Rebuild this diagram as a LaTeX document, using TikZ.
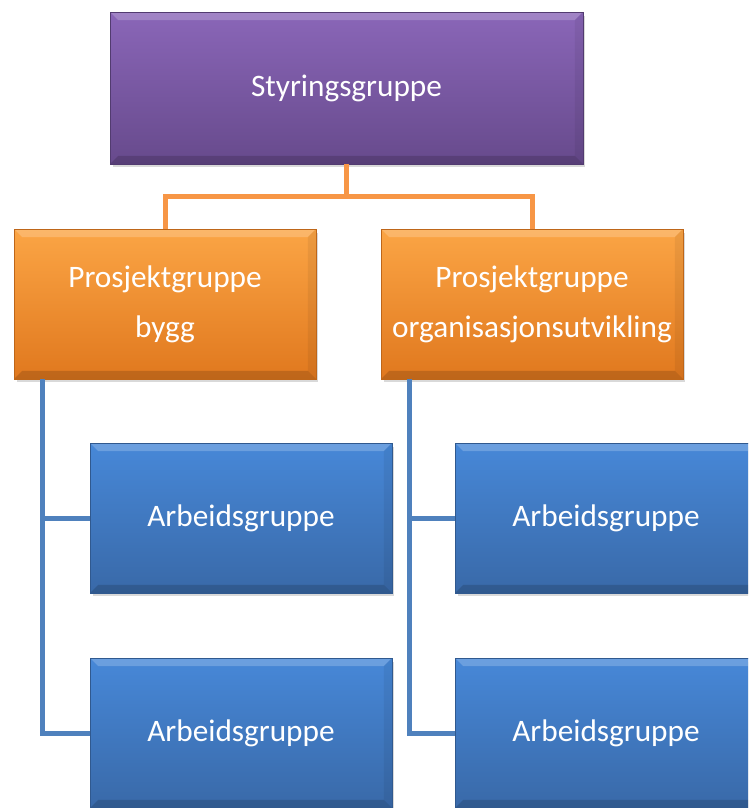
\documentclass[tikz,border=0pt]{standalone}
\usepackage{fontspec}
\setmainfont{Carlito}
\usetikzlibrary{shadows}

\definecolor{purpletop}{HTML}{8A66B8}
\definecolor{purplebot}{HTML}{674A8C}
\definecolor{orangetop}{HTML}{FBA545}
\definecolor{orangebot}{HTML}{E0781E}
\definecolor{bluetop}{HTML}{4788D8}
\definecolor{bluebot}{HTML}{3969A8}
\definecolor{orangeline}{HTML}{F79646}
\definecolor{blueline}{HTML}{4F81BD}

\tikzset{
  bevel/.style={path picture={
    \fill[white,opacity=0.2] (path picture bounding box.north west) -- (path picture bounding box.north east)
      -- ([xshift=-0.16cm,yshift=-0.16cm]path picture bounding box.north east)
      -- ([xshift=0.16cm,yshift=-0.16cm]path picture bounding box.north west) -- cycle;
    \fill[black,opacity=0.15] (path picture bounding box.south west) -- (path picture bounding box.south east)
      -- ([xshift=-0.16cm,yshift=0.16cm]path picture bounding box.south east)
      -- ([xshift=0.16cm,yshift=0.16cm]path picture bounding box.south west) -- cycle;
    \fill[black,opacity=0.06] (path picture bounding box.north east) -- (path picture bounding box.south east)
      -- ([xshift=-0.16cm,yshift=0.16cm]path picture bounding box.south east)
      -- ([xshift=-0.16cm,yshift=-0.16cm]path picture bounding box.north east) -- cycle;
  }},
  orgbox/.style={rectangle, minimum width=6.04cm, minimum height=3cm, inner sep=0pt,
    align=center, text=white, font=\fontsize{17.8}{28.5}\selectfont,
    drop shadow={shadow xshift=0.05cm, shadow yshift=-0.07cm, opacity=0.3}, bevel},
  styrbox/.style={orgbox, top color=purpletop, bottom color=purplebot, draw=purplebot!80!black,
    line width=0.3pt, minimum width=9.46cm, minimum height=3.04cm},
  prosbox/.style={orgbox, top color=orangetop, bottom color=orangebot, draw=orangebot!85!black, line width=0.3pt},
  arbbox/.style={orgbox, top color=bluetop, bottom color=bluebot, draw=bluebot!85!black, line width=0.3pt},
  oline/.style={orangeline, line width=0.1cm},
  bline/.style={blueline, line width=0.1cm},
}

\begin{document}
\begin{tikzpicture}[x=0.02cm,y=-0.02cm]
\path[use as bounding box, clip] (0,0) rectangle (748,808);

\node[styrbox] (styr) at (346.5,88) {Styringsgruppe};

\node[prosbox] (pbygg) at (165,304) {Prosjektgruppe\\bygg};
\node[prosbox] (porg) at (532,304) {Prosjektgruppe\\organisasjonsutvikling};

\node[arbbox] (ab1) at (241,518) {Arbeidsgruppe};
\node[arbbox] (ab2) at (241,733) {Arbeidsgruppe};
\node[arbbox] (ao1) at (606,518) {Arbeidsgruppe};
\node[arbbox] (ao2) at (606,733) {Arbeidsgruppe};

% styringsgruppe -> prosjektgrupper
\draw[oline] (styr.south) -- ++(0,32) coordinate (fork);
\draw[oline] (fork) -| (pbygg.north);
\draw[oline] (fork) -| (porg.north);

% prosjektgrupper -> arbeidsgrupper
\foreach \p/\a in {pbygg/ab1,pbygg/ab2,porg/ao1,porg/ao2} {
\draw[bline] ([xshift=0.58cm]\p.south west) |- (\a.west);
}
\end{tikzpicture}
\end{document}
